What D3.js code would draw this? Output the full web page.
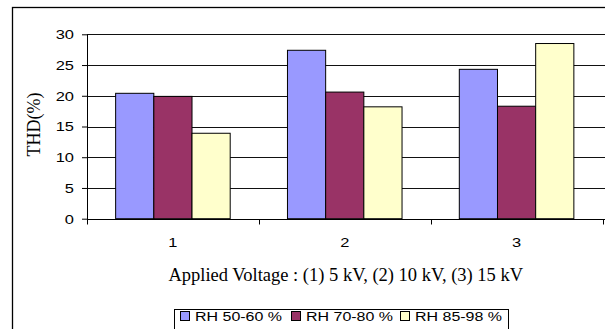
<!DOCTYPE html>
<html><head><meta charset="utf-8">
<script src="https://cdn.jsdelivr.net/npm/d3@7"></script>
<style>html,body{margin:0;padding:0;background:#fff;overflow:hidden}</style>
</head><body>
<svg id="c" width="605" height="329"></svg>
<script>
const categories = ["1", "2", "3"];
const seriesNames = ["RH 50-60 %", "RH 70-80 %", "RH 85-98 %"];
const rh5060 = [20.4, 27.4, 24.3];
const rh7080 = [19.9, 20.6, 18.3];
const rh8598 = [13.9, 18.2, 28.5];
const colors = ["#9999FF", "#993366", "#FFFFCC"];
const yTicks = [0, 5, 10, 15, 20, 25, 30];
const xTitle = "Applied Voltage : (1) 5 kV, (2) 10 kV, (3) 15 kV";
const yTitle = "THD(%)";

const series = [rh5060, rh7080, rh8598];
const svg = d3.select("#c");
const L = 87, R = 602.5, T = 34.3, B = 218.7;
const SX = 1.2; // horizontal stretch of sans text
const FS = 13.7;
const sans = "Arial, 'Liberation Sans', sans-serif";
const serif = "'Times New Roman', 'Liberation Serif', serif";

svg.append("rect").attr("x", 12.5).attr("y", 7.5).attr("width", 620).attr("height", 340)
  .attr("fill", "#fff").attr("stroke", "#000").attr("stroke-width", 1.3);

const x = d3.scaleBand().domain(categories).range([L, R]).paddingInner(0).paddingOuter(0);
const y = d3.scaleLinear().domain([0, 30]).range([B, T]);
const gap = 1.5; // gap width 150%
const barW = x.bandwidth() / (series.length + gap);
const xs = d3.scaleBand().domain(d3.range(series.length)).range([barW * gap / 2, x.bandwidth() - barW * gap / 2]).padding(0);

// gridlines
svg.append("g").selectAll("line").data(yTicks.filter(d => d > 0)).join("line")
  .attr("x1", L).attr("x2", 605).attr("y1", d => Math.round(y(d)) + 0.5).attr("y2", d => Math.round(y(d)) + 0.5)
  .attr("stroke", "#111").attr("stroke-width", 1);

// bars
series.forEach((s, si) => {
  svg.append("g").selectAll("rect").data(s).join("rect")
    .attr("x", (d, i) => x(categories[i]) + xs(si))
    .attr("y", d => y(d))
    .attr("width", xs.bandwidth())
    .attr("height", d => y(0) - y(d))
    .attr("fill", colors[si]).attr("stroke", "#000").attr("stroke-width", 1);
});

// y axis
const yAxis = d3.axisLeft(y).tickValues(yTicks).tickSize(5).tickPadding(8);
const gy = svg.append("g").attr("transform", `translate(${L},0)`).call(yAxis);
gy.select(".domain").attr("d", `M0.5,${T}V${B + 0.5}`).attr("stroke", "#000");
gy.selectAll(".tick line").attr("stroke", "#000");
gy.selectAll("text").attr("font-family", sans).attr("font-size", FS).attr("fill", "#000")
  .attr("x", -13 / SX).attr("transform", `scale(${SX},1)`);

// x axis
const xAxis = d3.axisBottom(x).tickSize(0).tickPadding(18);
const gx = svg.append("g").attr("transform", `translate(0,${Math.round(B) + 0.5})`).call(xAxis);
gx.select(".domain").attr("d", `M${L},0H605`).attr("stroke", "#000");
gx.selectAll(".tick text").attr("font-family", sans).attr("font-size", FS).attr("fill", "#000")
  .attr("transform", `scale(${SX},1)`);
// boundary ticks
const bounds = categories.map(c => x(c)).concat([x(categories[categories.length - 1]) + x.bandwidth()]);
gx.append("g").selectAll("line").data(bounds).join("line")
  .attr("x1", d => Math.round(d) + 0.5).attr("x2", d => Math.round(d) + 0.5).attr("y1", 0).attr("y2", 5)
  .attr("stroke", "#000");

// titles
svg.append("text").attr("x", (L + R) / 2 + 1).attr("y", 280.5).attr("text-anchor", "middle")
  .attr("font-family", serif).attr("font-size", 18.5).text(xTitle);
svg.append("text").attr("transform", `translate(40,${(T + B) / 2 - 2}) rotate(-90)`).attr("text-anchor", "middle")
  .attr("font-family", serif).attr("font-size", 18).text(yTitle);

// legend
const lg = svg.append("g");
lg.append("rect").attr("x", 174.5).attr("y", 309.5).attr("width", 334).attr("height", 40)
  .attr("fill", "#fff").attr("stroke", "#000").attr("stroke-width", 1);
const itemX = [180, 291, 400];
seriesNames.forEach((n, i) => {
  lg.append("rect").attr("x", itemX[i] + 0.5).attr("y", 311.5).attr("width", 9).attr("height", 9)
    .attr("fill", colors[i]).attr("stroke", "#000").attr("stroke-width", 1);
  lg.append("text").attr("x", itemX[i] + 15).attr("y", 321)
    .attr("font-family", sans).attr("font-size", FS)
    .attr("textLength", 87).attr("lengthAdjust", "spacingAndGlyphs").text(n);
});
</script>
</body></html>
